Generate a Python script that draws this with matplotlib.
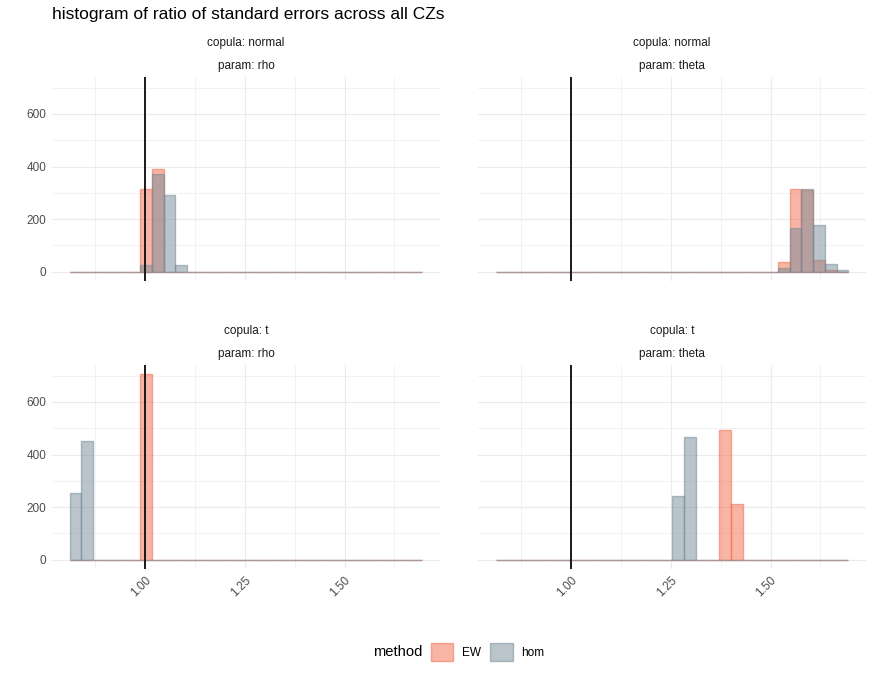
import matplotlib
matplotlib.use("Agg")
import matplotlib.pyplot as plt
from matplotlib.patches import Patch
import numpy as np

plt.rcParams["font.family"] = ["Liberation Sans", "DejaVu Sans"]

# binning shared by all facets (ggplot default bins=30 on the common x range)
x_min = 0.827
x_max = 1.680
n_bins = 30

x_breaks = [1.00, 1.25, 1.50]
x_minor = [0.875, 1.125, 1.375, 1.625]
y_breaks = [0, 200, 400, 600]
y_minor = [100, 300, 500, 700]

methods = ["EW", "hom"]
method_colors = {"EW": "#F26C4C", "hom": "#758B99"}

facet_copula = ["normal", "normal", "t", "t"]
facet_param = ["rho", "theta", "rho", "theta"]

# counts per bin (30 bins) for each facet
ew_normal_rho = [0, 0, 0, 0, 0, 0, 316, 390, 0, 0, 0, 0, 0, 0, 0,
                 0, 0, 0, 0, 0, 0, 0, 0, 0, 0, 0, 0, 0, 0, 0]
hom_normal_rho = [0, 0, 0, 0, 0, 0, 27, 370, 290, 24, 0, 0, 0, 0, 0,
                  0, 0, 0, 0, 0, 0, 0, 0, 0, 0, 0, 0, 0, 0, 0]
ew_normal_theta = [0, 0, 0, 0, 0, 0, 0, 0, 0, 0, 0, 0, 0, 0, 0,
                   0, 0, 0, 0, 0, 0, 0, 0, 0, 36, 313, 312, 46, 5, 0]
hom_normal_theta = [0, 0, 0, 0, 0, 0, 0, 0, 0, 0, 0, 0, 0, 0, 0,
                    0, 0, 0, 0, 0, 0, 0, 0, 0, 14, 168, 316, 176, 31, 8]
ew_t_rho = [0, 0, 0, 0, 0, 0, 705, 0, 0, 0, 0, 0, 0, 0, 0,
            0, 0, 0, 0, 0, 0, 0, 0, 0, 0, 0, 0, 0, 0, 0]
hom_t_rho = [254, 452, 0, 0, 0, 0, 0, 0, 0, 0, 0, 0, 0, 0, 0,
             0, 0, 0, 0, 0, 0, 0, 0, 0, 0, 0, 0, 0, 0, 0]
ew_t_theta = [0, 0, 0, 0, 0, 0, 0, 0, 0, 0, 0, 0, 0, 0, 0,
              0, 0, 0, 0, 493, 213, 0, 0, 0, 0, 0, 0, 0, 0, 0]
hom_t_theta = [0, 0, 0, 0, 0, 0, 0, 0, 0, 0, 0, 0, 0, 0, 0,
               243, 465, 0, 0, 0, 0, 0, 0, 0, 0, 0, 0, 0, 0, 0]

facet_counts = [
    {"EW": ew_normal_rho, "hom": hom_normal_rho},
    {"EW": ew_normal_theta, "hom": hom_normal_theta},
    {"EW": ew_t_rho, "hom": hom_t_rho},
    {"EW": ew_t_theta, "hom": hom_t_theta},
]

ref_line = 1.0

# bin edges the way ggplot centres them
bw = (x_max - x_min) / (n_bins - 1)
edges = x_min - bw / 2 + bw * np.arange(n_bins + 1)
lo, hi = edges[0], edges[-1]
xlim = (lo - 0.05 * (hi - lo), hi + 0.05 * (hi - lo))
ymax = max(max(max(c[m]) for m in methods) for c in facet_counts)
ylim = (-0.05 * ymax, 1.05 * ymax)

W, H = 872, 678
fig = plt.figure(figsize=(W / 100, H / 100), dpi=100)

panel_px = [(52, 77), (478, 77), (52, 365), (478, 365)]
pw, ph = 388, 204

for i, (px, py) in enumerate(panel_px):
    ax = fig.add_axes([px / W, 1 - (py + ph) / H, pw / W, ph / H])
    ax.set_xlim(xlim)
    ax.set_ylim(ylim)
    for s in ax.spines.values():
        s.set_visible(False)

    for v in x_minor:
        ax.axvline(v, color="#F0F0F0", lw=0.6, zorder=0)
    for v in y_minor:
        ax.axhline(v, color="#F0F0F0", lw=0.6, zorder=0)
    for v in x_breaks:
        ax.axvline(v, color="#EBEBEB", lw=0.8, zorder=0)
    for v in y_breaks:
        ax.axhline(v, color="#EBEBEB", lw=0.8, zorder=0)

    for m in methods:
        col = method_colors[m]
        ax.bar(edges[:-1], facet_counts[i][m], width=bw, align="edge",
               facecolor=matplotlib.colors.to_rgba(col, 0.5),
               edgecolor=matplotlib.colors.to_rgba(col, 0.55),
               linewidth=1.0, zorder=2)

    ax.axvline(ref_line, color="#1A1A1A", lw=1.4, zorder=3)

    ax.set_xticks(x_breaks)
    ax.set_yticks(y_breaks)
    ax.tick_params(length=0, colors="#4D4D4D", labelsize=8.5, pad=4)
    if i >= 2:
        ax.set_xticklabels([f"{v:.2f}" for v in x_breaks], rotation=45,
                           ha="right", va="top", rotation_mode="anchor")
    else:
        ax.set_xticklabels([])
    if i % 2 == 1:
        ax.set_yticklabels([])
    else:
        ax.set_yticklabels([str(v) for v in y_breaks])

    cx = (px + pw / 2) / W
    fig.text(cx, 1 - (py - 34) / H, f"copula: {facet_copula[i]}",
             ha="center", va="center", fontsize=8.5, color="#1A1A1A")
    fig.text(cx, 1 - (py - 11) / H, f"param: {facet_param[i]}",
             ha="center", va="center", fontsize=8.5, color="#1A1A1A")

fig.text(52 / W, 1 - 14 / H,
         "histogram of ratio of standard errors across all CZs",
         ha="left", va="center", fontsize=12.5, color="black")

# legend: title on the left, keys in a row (ggplot bottom legend)
fig.text(373 / W, 1 - 652 / H, "method", ha="left", va="center",
         fontsize=10.6, color="black")
handles = [Patch(facecolor=matplotlib.colors.to_rgba(method_colors[m], 0.5),
                 edgecolor=matplotlib.colors.to_rgba(method_colors[m], 0.55),
                 linewidth=1.0, label=m) for m in methods]
fig.legend(handles=handles, loc="center left",
           bbox_to_anchor=(431 / W, 1 - 652 / H), ncol=2, frameon=False,
           fontsize=8.5, handlelength=1.9, handleheight=1.9, borderpad=0,
           borderaxespad=0, columnspacing=0.8, handletextpad=0.7)

fig.savefig("out.png", dpi=100)
